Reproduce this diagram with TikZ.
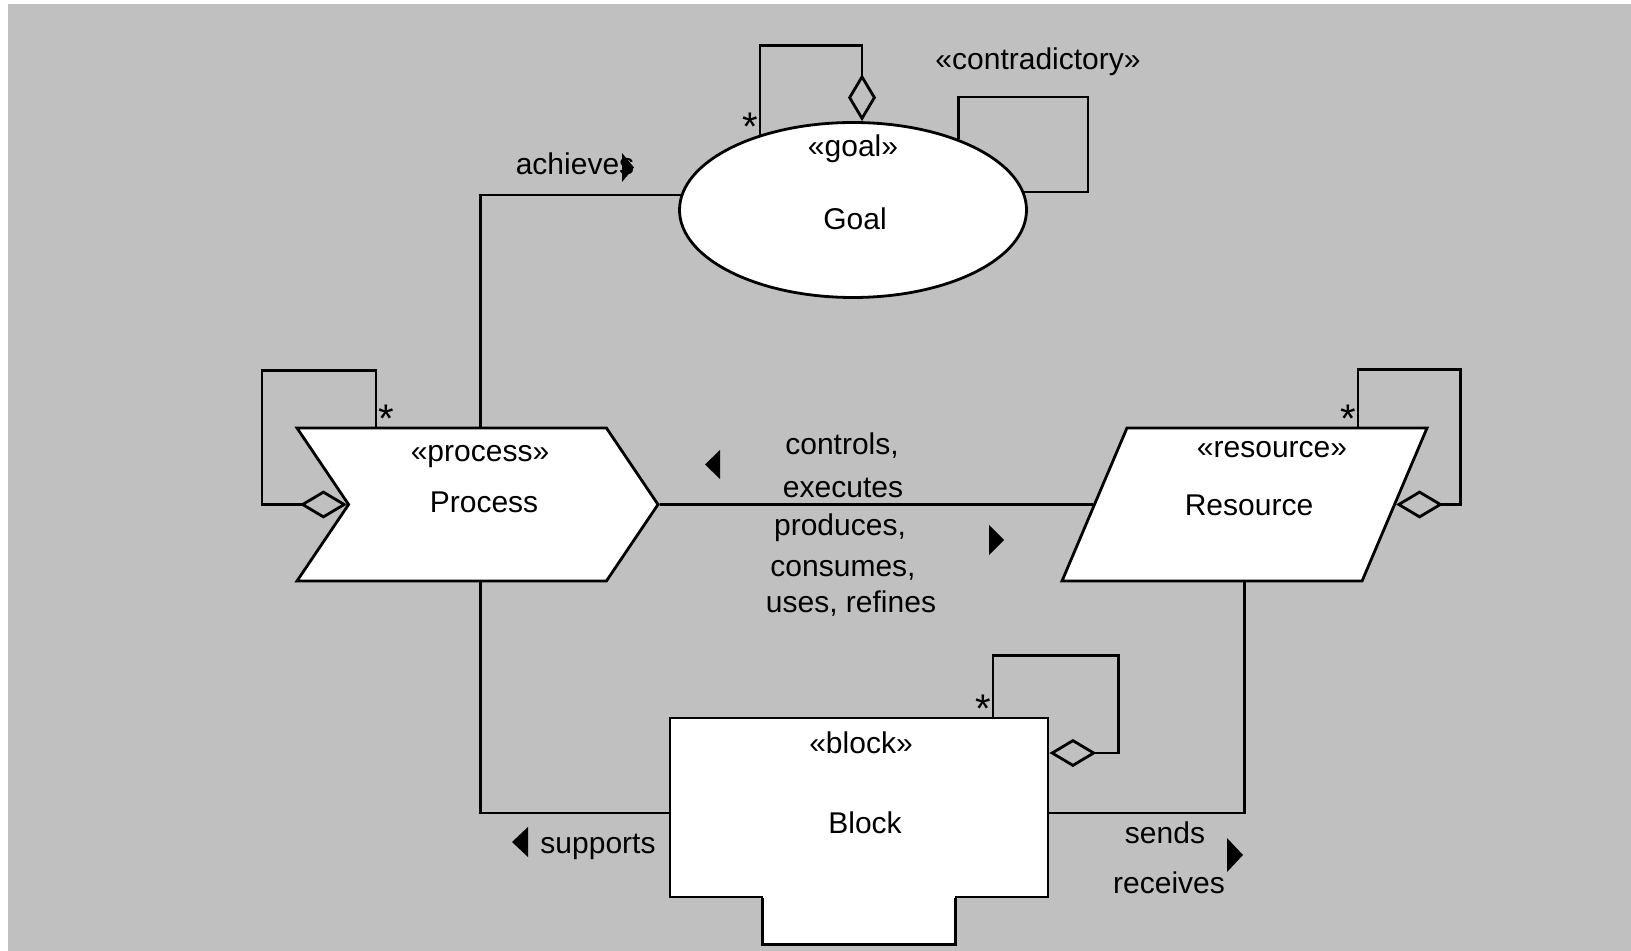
\documentclass[tikz,border=0pt]{standalone}
\usepackage{fontspec}
\setmainfont{Liberation Sans}
\usetikzlibrary{shapes.geometric}
\usetikzlibrary{shapes.symbols}
\usetikzlibrary{arrows.meta}
\definecolor{canvas}{RGB}{192,192,192}

\tikzset{
  every node/.style={font=\fontsize{15}{19.5}\selectfont},
  elem/.style={draw, fill=white, line width=1.4pt, inner sep=2pt},
  lbl/.style={anchor=base, inner sep=0pt},
  mult/.style={font=\fontsize{20}{20}\selectfont, inner sep=0.5pt, yshift=-4pt},
  link/.style={line width=1.4pt},
  agg/.style={line width=1.4pt, -{Diamond[open, length=23.5pt, width=14pt]}},
}

\begin{document}
\begin{tikzpicture}[x=0.5pt,y=-0.5pt]
\useasboundingbox (0,0) rectangle (1631,951);
\fill[canvas] (8,4) rectangle (1631,951);

% Elements
\node[elem, ellipse, minimum width=173.5pt, minimum height=87.5pt] (goal) at (853,210) {};
\node[elem, signal, signal from=west, signal to=east, signal pointer angle=112,
      minimum width=180.5pt, minimum height=76.5pt] (proc) at (477.5,504.5) {\strut};
\node[elem, trapezium, trapezium left angle=67, trapezium right angle=113, trapezium stretches body,
      inner ysep=28.5pt, minimum width=182.5pt] (res) at (1244.5,504.5) {\strut};
\node[elem, rectangle, minimum width=189pt, minimum height=89.5pt] (blk) at (859,807.5) {};
% tab under the block
\fill[white] ([xshift=47pt,yshift=1pt]blk.south west) rectangle ([xshift=-47pt,yshift=-23pt]blk.south east);
\draw[link] ([xshift=47pt]blk.south west) -- ++(0,46) -- ([xshift=-47pt,yshift=-23pt]blk.south east) -- ([xshift=-47pt]blk.south east);

% Associations
\draw[link] ([xshift=1.5pt]proc.north) |- (goal.175);
\draw[link] (proc.east) -- (res.west);
\draw[link] ([xshift=1.5pt]proc.south) |- ([yshift=-2.75pt]blk.west);
\draw[link] (res.south) |- ([yshift=-2.75pt]blk.east);

% Self associations
\coordinate (contra) at (1088,97);
\draw[link] (goal.34) |- (contra) |- (goal.6);
\draw[agg] (goal.141) node[mult, above left] {*} |- ([shift={(4.5pt,37.75pt)}]goal.north) -- ([xshift=4.5pt]goal.north);
\draw[agg] ([xshift=-50.75pt]proc.north) node[mult, above right] {*} -- ++(0,-56) -| ([xshift=-42.5pt]proc.west) -- (proc.west);
\draw[agg] ([xshift=56.75pt]res.north) node[mult, above left] {*} -- ++(0,-57) -| ([xshift=32.25pt]res.east) -- (res.east);
\draw[agg] ([xshift=67pt]blk.north) node[mult, above left] {*} -- ++(0,-61) -| ([xshift=34.5pt,yshift=27.25pt]blk.east) -- ([yshift=27.25pt]blk.east);

% Names
\node[lbl] (goalst) at (853,157) {«goal»};
\node[lbl] (goalnm) at (855,230) {Goal};
\node[lbl] (procst) at (480,462) {«process»};
\node[lbl] (procnm) at (484,512) {Process};
\node[lbl] (resst) at (1272,458) {«resource»};
\node[lbl] (resnm) at (1249,516) {Resource};
\node[lbl] (blkst) at (861,753) {«block»};
\node[lbl] (blknm) at (865,833) {Block};
\node[lbl] (contr) at (1038,70) {«contradictory»};

% Association labels
\node[lbl] (achv) at (575,175) {achieves};
\node[lbl] (ctrl) at (842,455) {controls,};
\node[lbl] (exec) at (843,497) {executes};
\node[lbl] (prod) at (840,535) {produces,};
\node[lbl] (cons) at (843,576) {consumes,};
\node[lbl] (uses) at (851,612) {uses, refines};
\node[lbl] (supp) at (598,853) {supports};
\node[lbl] (snd) at (1165,843) {sends};
\node[lbl] (rcv) at (1169,893) {receives};

% Reading directions
\fill (622,153) -- (634,167.5) -- (622,182) -- cycle;
\fill (720,450) -- (705,464.5) -- (720,479) -- cycle;
\fill (989,525) -- (1004,540) -- (989,555) -- cycle;
\fill (528,827) -- (512,842) -- (528,857) -- cycle;
\fill (1227,838) -- (1243,855) -- (1227,872) -- cycle;
\end{tikzpicture}
\end{document}
